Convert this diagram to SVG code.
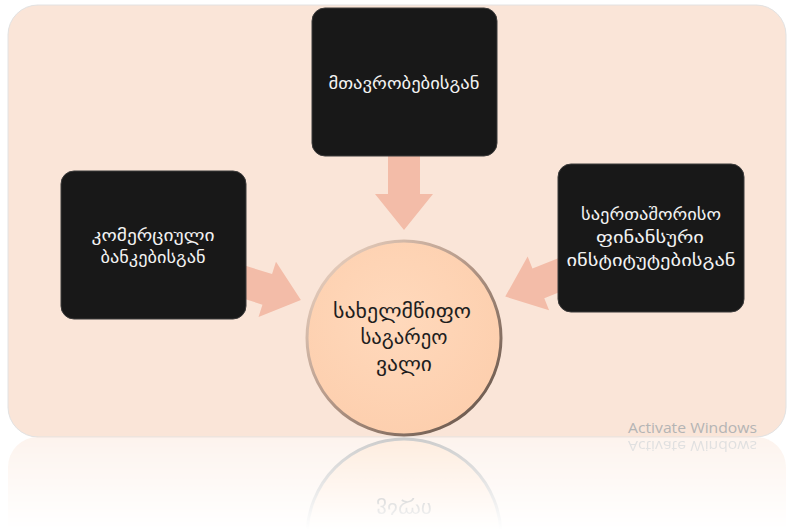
<svg xmlns="http://www.w3.org/2000/svg" width="791" height="530" viewBox="0 0 791 530">
<style>
.node rect{fill:#181818;stroke:#3a3a3a;stroke-width:1}
.nt{font-family:"DejaVu Sans",sans-serif;font-size:16px;fill:#f2f2f2;text-anchor:middle}
.ct{font-family:"DejaVu Sans",sans-serif;font-size:19px;fill:#1e1e1e;text-anchor:middle}
.arrow{fill:#F3BCA8}
.wm{font-family:"Open Sans","DejaVu Sans",sans-serif;font-size:15px;fill:#b4b4b4}
</style>
<defs>
<polygon id="arr" points="0,-16 42,-16 42,-29 78,0 42,29 42,16 0,16"/>
<radialGradient id="cg" cx="0.45" cy="0.4" r="0.6">
<stop offset="0" stop-color="#FFD9BC"/>
<stop offset="1" stop-color="#FDCFAE"/>
</radialGradient>
<linearGradient id="rim" x1="0" y1="0" x2="1" y2="1">
<stop offset="0" stop-color="#f4dccb"/>
<stop offset="0.5" stop-color="#b09484"/>
<stop offset="1" stop-color="#5a4a40"/>
</linearGradient>
<linearGradient id="fade" x1="0" y1="0" x2="0" y2="1">
<stop offset="0" stop-color="#fff" stop-opacity="0.45"/>
<stop offset="1" stop-color="#fff" stop-opacity="0"/>
</linearGradient>
<mask id="rmask" maskUnits="userSpaceOnUse" x="0" y="437" width="791" height="93">
<rect x="0" y="437" width="791" height="93" fill="url(#fade)"/>
</mask>
</defs>
<rect width="791" height="530" fill="#ffffff"/>
<rect id="bg" x="8" y="5" width="778" height="432" rx="30" fill="#FAE5D8" stroke="#e2e2e2" stroke-width="1"/>

<g id="reflection" mask="url(#rmask)">
<g transform="translate(0,874) scale(1,-1)">
<rect x="8" y="5" width="778" height="432" rx="30" fill="#FAE5D8"/>
<circle cx="404" cy="338" r="97" fill="#FDD5B6" stroke="#8d8d8d" stroke-width="3"/>
<text class="ct" x="404" y="371" fill="#555" textLength="56" lengthAdjust="spacingAndGlyphs">ვალი</text>
<text class="wm" x="628" y="433" textLength="129" lengthAdjust="spacingAndGlyphs">Activate Windows</text>
</g>
</g>

<g id="connectors">
<use href="#arr" class="arrow" transform="translate(404,152) rotate(90)"/>
<use href="#arr" class="arrow" transform="translate(228,277) rotate(17.5) scale(0.98,1)"/>
<use href="#arr" class="arrow" transform="translate(577,268) rotate(158.3) scale(0.99,1)"/>
</g>

<g id="node-top" class="node">
<rect x="312" y="8" width="185" height="148" rx="13"/>
<text class="nt" x="404" y="89" textLength="151" lengthAdjust="spacingAndGlyphs">მთავრობებისგან</text>
</g>
<g id="node-left" class="node">
<rect x="61" y="171" width="185" height="148" rx="13"/>
<text class="nt" x="153" y="241" textLength="123" lengthAdjust="spacingAndGlyphs">კომერციული</text>
<text class="nt" x="153" y="263" textLength="105" lengthAdjust="spacingAndGlyphs">ბანკებისგან</text>
</g>
<g id="node-right" class="node">
<rect x="558" y="164" width="186" height="148" rx="13"/>
<text class="nt" x="651" y="220" textLength="140" lengthAdjust="spacingAndGlyphs">საერთაშორისო</text>
<text class="nt" x="650" y="243" textLength="108" lengthAdjust="spacingAndGlyphs">ფინანსური</text>
<text class="nt" x="651" y="266" textLength="169" lengthAdjust="spacingAndGlyphs">ინსტიტუტებისგან</text>
</g>
<g id="node-center">
<circle cx="404" cy="338" r="97" fill="url(#cg)" stroke="url(#rim)" stroke-width="3"/>
<text class="ct" x="402" y="318" textLength="138" lengthAdjust="spacingAndGlyphs">სახელმწიფო</text>
<text class="ct" x="404" y="344" textLength="87" lengthAdjust="spacingAndGlyphs">საგარეო</text>
<text class="ct" x="404" y="371" textLength="56" lengthAdjust="spacingAndGlyphs">ვალი</text>
</g>
<text class="wm" x="628" y="433" textLength="129" lengthAdjust="spacingAndGlyphs">Activate Windows</text>
</svg>
